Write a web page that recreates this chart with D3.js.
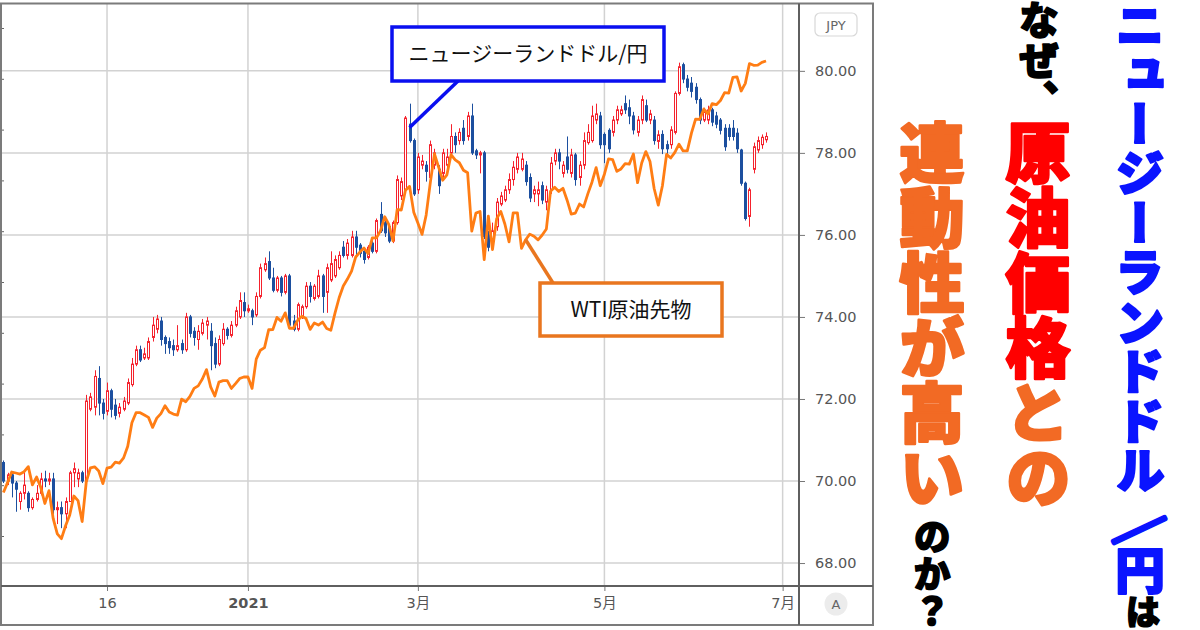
<!DOCTYPE html>
<html>
<head>
<meta charset="utf-8">
<script src="https://cdn.jsdelivr.net/npm/d3@7"></script>
<style>
body { margin: 0; background: #fff; }
svg { display: block; }
</style>
</head>
<body>
<svg id="chart" width="1200" height="630"></svg>
<script>

// NZD/JPY daily candles, Oct 12 2020 -> Jun 25 2021 (one row per week)
var nzdOpen = [
    70.45, 70.0, 70.15, 69.95, 69.5,
    69.7, 69.7, 69.35, 69.55, 69.7,
    70.05, 70.0, 70.05, 69.3, 69.35,
    69.2, 69.5, 70.2, 70.05, 70.2,
    70.0, 71.75, 71.8, 72.5, 71.9,
    71.7, 72.2, 71.85, 71.65, 71.75,
    71.9, 72.35, 72.85, 73.2, 73.0,
    73.0, 73.5, 73.7, 73.9, 73.5,
    73.4, 73.3, 73.2, 73.35, 73.2,
    74.0, 73.65, 73.45, 73.6, 73.8,
    73.65, 73.35, 72.85, 73.35, 73.7,
    73.55, 73.8, 74.0, 74.35, 74.15,
    74.15, 74.05, 74.5, 75.15, 75.35,
    74.95, 74.65, 74.95, 74.6, 75.0,
    73.9, 73.7, 74.0, 74.25, 74.75,
    74.45, 74.5, 75.0, 74.6, 74.9,
    75.0, 75.2, 75.7, 75.5, 75.5,
    75.95, 75.75, 75.6, 75.45, 75.8,
    75.6, 76.5, 76.3, 76.2, 75.85,
    76.3, 76.95, 77.1, 78.7, 78.3,
    77.1, 77.7, 77.7, 77.4, 77.7,
    77.6, 77.5, 77.7, 78.0, 78.4,
    78.3, 78.6, 78.4, 78.9, 78.05,
    77.95, 78.0, 76.0, 75.75, 76.2,
    76.75, 76.85, 77.1, 77.35, 77.6,
    77.6, 77.7, 77.4, 77.0, 77.0,
    77.2, 76.8, 77.1, 77.8, 78.0,
    77.5, 77.9, 77.5, 77.95, 77.4,
    77.7, 78.25, 78.3, 78.8, 78.9,
    78.45, 78.55, 78.5, 78.8, 78.95,
    79.2, 79.1, 78.9, 78.5, 78.8,
    79.15, 78.8, 78.8, 78.28, 78.45,
    78.2, 78.2, 78.5, 79.45, 80.15,
    79.8, 79.7, 79.6, 79.3, 78.8,
    78.8, 79.05, 78.9, 78.8, 78.6,
    78.6, 78.6, 78.48, 78.07, 77.26,
    76.45, 77.6, 78.07, 78.2, 78.32
];
var nzdHigh = [
    70.5, 70.2, 70.2, 70.0, 69.75,
    70.2, 69.75, 69.6, 69.9, 70.2,
    70.25, 70.2, 70.2, 69.5, 69.5,
    69.6, 70.25, 70.45, 70.3, 70.25,
    72.1, 72.15, 72.7, 72.8, 72.0,
    72.4, 72.25, 72.0, 71.9, 72.05,
    72.5, 73.0, 73.3, 73.3, 73.25,
    73.5, 74.0, 74.05, 74.0, 73.55,
    73.5, 73.45, 73.8, 73.45, 74.1,
    74.05, 73.75, 73.8, 73.95, 74.0,
    73.85, 73.5, 73.55, 73.85, 73.75,
    73.9, 74.25, 74.6, 74.6, 74.3,
    74.2, 74.6, 75.3, 75.45, 75.6,
    75.2, 75.0, 75.0, 75.05, 75.05,
    74.05, 74.35, 74.3, 74.85, 74.85,
    74.8, 75.15, 75.05, 75.3, 75.6,
    75.5, 75.6, 75.85, 75.9, 76.1,
    76.1, 75.8, 75.65, 75.75, 75.9,
    76.4, 76.8, 76.35, 76.25, 76.35,
    77.45, 77.4, 78.9, 79.2, 78.35,
    78.0, 77.95, 77.8, 78.3, 78.1,
    77.7, 78.1, 78.1, 78.7, 78.5,
    78.6, 78.8, 79.0, 79.2, 78.1,
    78.05, 78.05, 76.1, 76.3, 76.9,
    77.05, 77.2, 77.5, 77.8, 78.0,
    78.0, 77.8, 77.5, 77.2, 77.3,
    77.3, 77.2, 77.9, 78.1, 78.1,
    77.8, 78.4, 78.1, 78.0, 77.8,
    78.5, 78.7, 79.15, 79.2, 79.0,
    78.5, 78.6, 78.9, 79.15, 79.15,
    79.4, 79.3, 79.0, 78.9, 79.4,
    79.3, 79.05, 78.9, 78.55, 78.55,
    78.3, 78.65, 79.5, 80.2, 80.2,
    79.9, 79.85, 79.7, 79.35, 79.1,
    79.15, 79.1, 79.0, 78.85, 78.7,
    78.7, 78.8, 78.6, 78.1, 77.3,
    77.15, 78.25, 78.4, 78.45, 78.5
];
var nzdLow = [
    69.95, 69.9, 69.6, 69.25, 69.3,
    69.55, 69.25, 69.3, 69.5, 69.65,
    69.85, 69.9, 69.2, 68.95, 68.85,
    68.85, 69.5, 69.85, 69.85, 69.95,
    69.95, 71.7, 71.6, 71.6, 71.5,
    71.6, 71.55, 71.5, 71.55, 71.7,
    71.85, 72.3, 72.8, 72.9, 72.95,
    72.95, 73.4, 73.6, 73.3, 73.1,
    73.1, 73.05, 73.15, 73.1, 73.15,
    73.5, 73.3, 73.2, 73.55, 73.45,
    72.7, 72.75, 72.8, 73.3, 73.45,
    73.5, 73.75, 73.95, 74.0, 74.1,
    73.8, 74.0, 74.45, 75.1, 74.9,
    74.6, 74.6, 74.5, 74.55, 73.75,
    73.65, 73.65, 73.95, 74.2, 74.35,
    74.4, 74.45, 74.1, 74.1, 74.85,
    74.95, 75.15, 75.45, 75.4, 75.45,
    75.5, 75.45, 75.3, 75.4, 75.55,
    75.55, 76.05, 75.95, 75.8, 75.8,
    76.25, 76.85, 77.05, 78.25, 76.95,
    77.0, 77.6, 77.3, 77.3, 77.6,
    77.0, 77.4, 77.6, 77.9, 78.0,
    78.2, 78.2, 78.3, 77.95, 77.85,
    77.5, 75.9, 75.6, 75.7, 76.1,
    76.7, 76.8, 77.0, 77.2, 77.5,
    77.55, 77.2, 76.8, 76.8, 76.7,
    76.75, 76.6, 77.0, 77.7, 77.6,
    77.4, 77.5, 77.4, 77.2, 77.2,
    77.6, 78.2, 78.25, 78.7, 78.1,
    77.75, 78.0, 78.4, 78.7, 78.9,
    78.95, 78.7, 78.45, 78.4, 78.7,
    78.75, 78.7, 78.2, 78.1, 77.97,
    77.95, 78.1, 78.45, 79.4, 79.7,
    79.5, 79.35, 79.2, 78.7, 78.75,
    78.7, 78.65, 78.6, 78.45, 78.05,
    78.3, 78.3, 78.0, 77.2, 76.35,
    76.2, 77.5, 78.0, 78.1, 78.25
];
var nzdClose = [
    70.0, 70.15, 69.95, 69.8, 69.7,
    69.9, 69.35, 69.55, 69.7, 70.05,
    70.0, 70.05, 69.3, 69.35, 69.2,
    69.5, 70.2, 70.3, 70.2, 70.0,
    71.95, 72.05, 72.55, 71.9, 71.65,
    72.2, 71.75, 71.6, 71.8, 71.95,
    72.4, 72.85, 73.2, 72.95, 73.1,
    73.4, 73.8, 73.95, 73.45, 73.35,
    73.25, 73.2, 73.3, 73.2, 74.0,
    73.6, 73.5, 73.65, 73.85, 73.9,
    73.3, 72.85, 73.45, 73.7, 73.55,
    73.8, 74.15, 74.4, 74.15, 74.2,
    74.0, 74.5, 75.2, 75.3, 74.95,
    74.65, 74.95, 74.6, 75.0, 73.8,
    73.7, 74.3, 74.25, 74.75, 74.5,
    74.75, 75.0, 74.5, 75.2, 75.3,
    75.4, 75.5, 75.5, 75.8, 75.95,
    75.7, 75.55, 75.4, 75.7, 75.6,
    76.35, 76.1, 76.05, 75.85, 76.3,
    77.35, 77.3, 78.85, 78.3, 77.0,
    77.9, 77.8, 77.55, 78.2, 78.0,
    77.2, 78.0, 77.9, 78.4, 78.2,
    78.5, 78.3, 78.9, 78.0, 77.95,
    78.0, 75.96, 75.7, 76.1, 76.8,
    76.95, 77.1, 77.35, 77.65, 77.9,
    77.85, 77.3, 76.9, 77.1, 77.1,
    76.85, 77.1, 77.75, 78.0, 77.8,
    77.7, 77.6, 77.95, 77.35, 77.7,
    78.3, 78.5, 78.9, 78.95, 78.2,
    78.2, 78.1, 78.8, 79.05, 79.05,
    79.05, 78.9, 78.56, 78.8, 79.3,
    78.8, 78.95, 78.3, 78.44, 78.1,
    78.1, 78.56, 79.45, 80.1, 79.8,
    79.6, 79.5, 79.3, 78.8, 79.0,
    79.05, 78.75, 78.7, 78.55, 78.15,
    78.4, 78.4, 78.1, 77.26, 76.4,
    77.1, 78.15, 78.3, 78.38, 78.4
];

// WTI crude futures (USD), same trading days
var wtiClose = [
    39.43, 40.20, 41.04, 40.96, 40.88,
    41.06, 41.46, 40.03, 40.64, 39.85,
    38.56, 39.57, 37.39, 36.17, 35.79,
    36.81, 37.66, 39.15, 38.79, 37.14,
    40.29, 41.36, 41.45, 41.12, 40.13,
    41.34, 41.43, 41.82, 41.74, 42.15,
    43.06, 44.91, 45.71, 45.71, 45.53,
    45.34, 44.55, 45.28, 45.64, 46.26,
    45.76, 45.60, 45.52, 46.78, 46.57,
    46.99, 47.62, 47.82, 48.36, 49.10,
    47.74, 47.02, 48.12, 48.23, 48.23,
    47.62, 48.00, 48.40, 48.52, 48.52,
    47.62, 49.93, 50.63, 50.83, 52.24,
    52.25, 53.21, 52.91, 53.57, 52.36,
    52.36, 52.98, 53.31, 53.13, 52.27,
    52.77, 52.61, 52.85, 52.34, 52.20,
    53.55, 54.76, 55.69, 56.23, 56.85,
    57.97, 58.36, 58.68, 58.24, 59.47,
    59.47, 60.05, 61.14, 60.52, 59.24,
    61.70, 61.67, 63.22, 63.53, 61.50,
    60.64, 59.75, 61.28, 63.83, 66.09,
    65.05, 64.01, 64.44, 66.02, 65.61,
    65.39, 64.80, 64.60, 60.00, 61.42,
    61.55, 57.76, 61.18, 58.56, 60.97,
    61.56, 60.55, 59.16, 61.45, 61.45,
    58.65, 59.33, 59.77, 59.60, 59.32,
    59.70, 60.18, 63.15, 63.46, 63.13,
    63.38, 62.44, 61.35, 61.43, 62.14,
    61.91, 62.94, 63.86, 65.01, 63.58,
    64.49, 65.69, 65.63, 64.71, 64.90,
    65.32, 65.28, 66.08, 63.82, 65.37,
    66.27, 65.49, 63.36, 62.05, 63.58,
    66.05, 65.76, 66.21, 66.85, 66.32,
    66.32, 67.72, 68.83, 68.81, 69.62,
    69.23, 70.05, 69.96, 70.29, 70.91,
    70.88, 72.12, 72.15, 71.04, 71.64,
    73.20, 73.06, 73.08, 73.30, 73.40
];

// axis ticks
var priceTicks = [68, 70, 72, 74, 76, 78, 80];
var wtiTicks = [36, 40, 44, 48, 52, 56, 60, 64, 68, 72, 76];
var timeTickDates = ['2020-11-16', '2021-01-01', '2021-03-01', '2021-05-03', '2021-07-01'];
var timeTickLabels = ['16', '2021', '3月', '5月', '7月'];

var svg = d3.select('#chart');
var fmtDay = d3.timeFormat('%Y-%m-%d');

// weekday calendar, index 0 = first candle
var calendar = d3.timeDay.range(new Date(2020, 9, 12), new Date(2021, 6, 6))
    .filter(function(d) { return d.getDay() !== 0 && d.getDay() !== 6; });
var tickIndex = timeTickDates.map(function(t) {
    return calendar.findIndex(function(d) { return fmtDay(d) === t; });
});

var plotLeft = 2, plotRight = 799, plotTop = 4, plotBottom = 586;

var x = d3.scaleLinear().domain([-0.34, 191.95]).range([plotLeft, plotRight]);
var y = d3.scaleLinear().domain([67.44, 81.63]).range([plotBottom, plotTop]);
var wy = d3.scaleLinear().domain([36, 76]).range([536, 28]);   // hidden overlay scale

svg.append('rect').attr('width', 1200).attr('height', 630).attr('fill', '#fff');

svg.append('clipPath').attr('id', 'plotclip')
  .append('rect')
    .attr('x', plotLeft).attr('y', plotTop)
    .attr('width', plotRight - plotLeft).attr('height', plotBottom - plotTop);

// grid
var grid = svg.append('g').attr('stroke', '#d2d2d2').attr('stroke-width', 1.5);
grid.selectAll('.hg').data(priceTicks).enter().append('line')
    .attr('x1', plotLeft).attr('x2', plotRight)
    .attr('y1', function(d) { return y(d); }).attr('y2', function(d) { return y(d); });
grid.selectAll('.vg').data(tickIndex).enter().append('line')
    .attr('y1', plotTop).attr('y2', plotBottom)
    .attr('x1', function(d) { return x(d); }).attr('x2', function(d) { return x(d); });

var plot = svg.append('g').attr('clip-path', 'url(#plotclip)');

var UP = '#f5222d', DOWN = '#1c4f9f';
var candles = d3.range(nzdClose.length);

// wicks
plot.append('g').selectAll('line').data(candles).enter().append('line')
    .attr('x1', function(i) { return Math.round(x(i)) + 0.5; })
    .attr('x2', function(i) { return Math.round(x(i)) + 0.5; })
    .attr('y1', function(i) { return y(nzdHigh[i]); })
    .attr('y2', function(i) { return y(nzdLow[i]); })
    .attr('stroke', function(i) { return nzdClose[i] >= nzdOpen[i] ? UP : DOWN; })
    .attr('stroke-width', 1);

// bodies: hollow red for up days, solid blue for down days
plot.append('g').selectAll('rect').data(candles).enter().append('rect')
    .attr('x', function(i) { return Math.round(x(i)) - 0.5; })
    .attr('width', 2)
    .attr('y', function(i) { return y(Math.max(nzdOpen[i], nzdClose[i])); })
    .attr('height', function(i) { return Math.max(1, Math.abs(y(nzdOpen[i]) - y(nzdClose[i]))); })
    .attr('fill', function(i) { return nzdClose[i] >= nzdOpen[i] ? '#fff' : DOWN; })
    .attr('stroke', function(i) { return nzdClose[i] >= nzdOpen[i] ? UP : DOWN; })
    .attr('stroke-width', 1);

// WTI overlay
var wtiLine = d3.line()
    .x(function(d, i) { return x(i); })
    .y(function(d) { return wy(d); });

plot.append('path')
    .datum(wtiClose)
    .attr('d', wtiLine)
    .attr('fill', 'none')
    .attr('stroke', '#ff7d14')
    .attr('stroke-width', 2.8)
    .attr('stroke-linejoin', 'round');

// hidden overlay scale: only its ticks show on the left edge
var leftAxis = svg.append('g')
    .attr('transform', 'translate(1,0)')
    .call(d3.axisRight(wy).tickValues(wtiTicks).tickSize(3).tickFormat(''));
leftAxis.select('.domain').remove();
leftAxis.selectAll('line').attr('stroke', '#666');

// price axis
var priceAxis = svg.append('g')
    .attr('transform', 'translate(' + plotRight + ',0)')
    .call(d3.axisRight(y).tickValues(priceTicks).tickFormat(d3.format('.2f')).tickSize(6).tickPadding(10));
priceAxis.select('.domain').remove();
priceAxis.selectAll('line').attr('stroke', '#777');
priceAxis.selectAll('text')
    .attr('fill', '#555')
    .style('font-family', '"DejaVu Sans", Verdana, sans-serif')
    .style('font-size', '14.5px');

// time axis
var timeAxis = svg.append('g')
    .attr('transform', 'translate(0,' + plotBottom + ')')
    .call(d3.axisBottom(x).tickValues(tickIndex)
        .tickFormat(function(d, i) { return timeTickLabels[i]; })
        .tickSize(5).tickPadding(7));
timeAxis.select('.domain').remove();
timeAxis.selectAll('line').attr('stroke', '#777');
timeAxis.selectAll('text')
    .attr('fill', '#555')
    .style('font-family', '"DejaVu Sans", "Noto Sans CJK JP", sans-serif')
    .style('font-size', '14.5px')
    .style('font-weight', function(d, i) { return timeTickLabels[i] === '2021' ? 'bold' : 'normal'; });

// panel frame and separators
var frame = svg.append('g').attr('fill', 'none').attr('stroke', '#7b7b7b').attr('stroke-width', 2);
frame.append('rect').attr('x', 1).attr('y', 3.5).attr('width', 872).attr('height', 621.5);
frame.append('line').attr('x1', plotRight).attr('x2', plotRight).attr('y1', 3.5).attr('y2', 625)
    .attr('stroke', '#5f5f5f');
frame.append('line').attr('x1', 1).attr('x2', 873).attr('y1', plotBottom).attr('y2', plotBottom)
    .attr('stroke', '#5f5f5f');

// currency badge and auto-scale button
svg.append('rect').attr('x', 815).attr('y', 13).attr('width', 42).attr('height', 23).attr('rx', 5)
    .attr('fill', '#fff').attr('stroke', '#d8d8d8').attr('stroke-width', 1.2);
svg.append('text').attr('x', 836).attr('y', 29.5).attr('text-anchor', 'middle')
    .attr('fill', '#666').style('font-family', '"DejaVu Sans", sans-serif').style('font-size', '13px')
    .text('JPY');
svg.append('circle').attr('cx', 836).attr('cy', 604).attr('r', 11.5).attr('fill', '#ececec');
svg.append('text').attr('x', 836).attr('y', 609).attr('text-anchor', 'middle')
    .attr('fill', '#666').style('font-family', '"DejaVu Sans", sans-serif').style('font-size', '13px')
    .text('A');

// callouts
function callout(box, anchor, label, color) {
    svg.append('line')
        .attr('x1', anchor[0]).attr('y1', anchor[1])
        .attr('x2', box.lx).attr('y2', box.ly)
        .attr('stroke', color).attr('stroke-width', 3.5);
    svg.append('rect')
        .attr('x', box.x).attr('y', box.y).attr('width', box.w).attr('height', box.h)
        .attr('fill', '#fff').attr('stroke', color).attr('stroke-width', 3.5);
    svg.append('text')
        .attr('x', box.x + box.w / 2).attr('y', box.y + box.h / 2 + 7)
        .attr('text-anchor', 'middle')
        .attr('fill', '#111')
        .style('font-family', '"Noto Sans CJK JP", sans-serif')
        .style('font-size', '21px')
        .text(label);
}
callout({x: 392, y: 27, w: 272, h: 54, lx: 458, ly: 81}, [x(98), y(78.62)], 'ニュージーランドドル/円', '#0a0ff0');
callout({x: 540, y: 283, w: 182, h: 53, lx: 553, ly: 283}, [x(126), wy(wtiClose[126])], 'WTI原油先物', '#e9761f');

// headline, vertical columns
var headFont = '"Noto Sans CJK JP", "Noto Sans CJK SC", sans-serif';
function column(cx, top, size, parts) {
    var t = svg.append('text')
        .attr('x', cx).attr('y', top)
        .style('writing-mode', 'vertical-rl')
        .style('font-family', headFont)
        .style('font-weight', 900)
        .style('font-size', size + 'px')
        .style('paint-order', 'stroke')
        .attr('stroke-linejoin', 'round');
    parts.forEach(function(p) {
        t.append('tspan').attr('fill', p[1]).attr('stroke', p[1]).attr('stroke-width', size * 0.04).text(p[0]);
    });
}
var BLUE = '#0a14ff';
column(1140, 0, 49.5, [['ニュージーランドドル', BLUE]]);
// the slash is set lying down, as in the original headline
svg.append('text')
    .attr('x', 1140).attr('y', 528)
    .attr('text-anchor', 'middle')
    .attr('dominant-baseline', 'central')
    .attr('transform', 'rotate(20,1140,528)')
    .attr('fill', BLUE).attr('stroke', BLUE).attr('stroke-width', 4.5)
    .attr('stroke-linejoin', 'round')
    .style('font-family', headFont).style('font-weight', 900).style('font-size', '44px')
    .text('／');
column(1140, 545, 50, [['円', BLUE]]);
column(1143, 594, 35, [['は', '#000']]);
column(1039, 0, 40, [['なぜ、', '#000']]);
column(1038, 120, 65, [['原油価格', '#ff0000'], ['との', '#f26a24']]);
column(932, 120, 65, [['連動性が高い', '#f26a24']]);
column(932, 518, 37, [['のか？', '#000']]);

</script>
</body>
</html>
